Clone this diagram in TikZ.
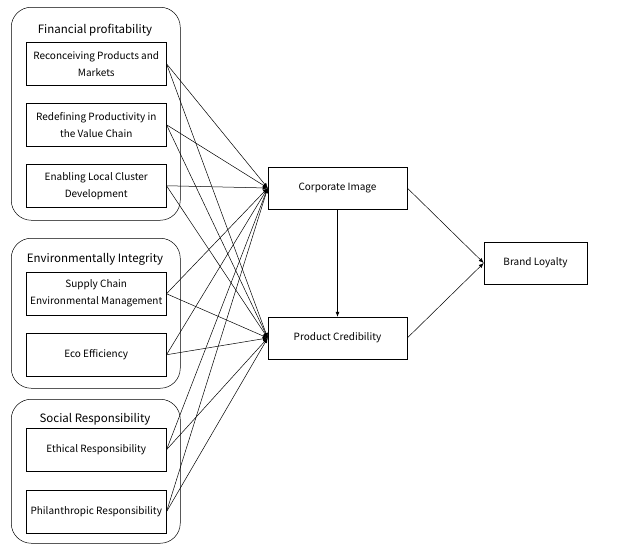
\documentclass[tikz,border=0pt]{standalone}
\usepackage{fontspec}
\setmainfont{Noto Sans CJK KR}
\usetikzlibrary{positioning,arrows.meta}

\begin{document}
\begin{tikzpicture}[x=1pt,y=-1pt,line width=0.5pt,
  group/.style={draw,rounded corners=20pt,minimum width=169pt,anchor=north west},
  grouptitle/.style={font=\fontsize{11.5}{13}\selectfont},
  item/.style={draw,minimum width=140pt,minimum height=43pt,align=center,
    inner sep=2pt,anchor=north west,font=\fontsize{10}{17}\selectfont},
  outcome/.style={draw,minimum width=139pt,minimum height=42pt,
    font=\fontsize{10}{12}\selectfont},
  link/.style={-{Latex[length=5pt,width=4pt]}}]
  \useasboundingbox (0,0) rectangle (624,544);

  % Group frames
  \node[group,minimum height=213pt] (fin) at (11,7) {};
  \node[group,minimum height=150pt] (env) at (11,238) {};
  \node[group,minimum height=144pt] (soc) at (11,399) {};

  \node[grouptitle] (fintitle) at (95,30) {Financial profitability};
  \node[grouptitle] (envtitle) at (95,259) {Environmentally Integrity};
  \node[grouptitle] (soctitle) at (95,419) {Social Responsibility};

  % Dimensions
  \node[item] (rpm) at (26,42) {Reconceiving Products and\\Markets};
  \node[item] (rpv) at (26,103) {Redefining Productivity in\\the Value Chain};
  \node[item] (elc) at (26,164) {Enabling Local Cluster\\Development};
  \node[item] (sce) at (26,272) {Supply Chain\\Environmental Management};
  \node[item] (eco) at (26,333) {Eco Efficiency};
  \node[item] (eth) at (26,428) {Ethical Responsibility};
  \node[item] (phi) at (26,490) {Philanthropic Responsibility};

  % Outcomes
  \node[outcome] (ci) at (337.5,188) {Corporate Image};
  \node[outcome] (pc) at (337.5,338) {Product Credibility};
  \node[draw,minimum width=103pt,minimum height=42pt,
    font=\fontsize{10}{12}\selectfont] (bl) at (535.5,263) {Brand Loyalty};

  % Paths
  \foreach \src in {rpm,rpv,elc,sce,eco,eth,phi} {
    \draw[link] (\src.east) -- (ci.west);
    \draw[link] (\src.east) -- (pc.west);
  }
  \draw[link] (ci) -- (pc);
  \draw[link] (ci.east) -- (bl.west);
  \draw[link] (pc.east) -- (bl.west);
\end{tikzpicture}
\end{document}
